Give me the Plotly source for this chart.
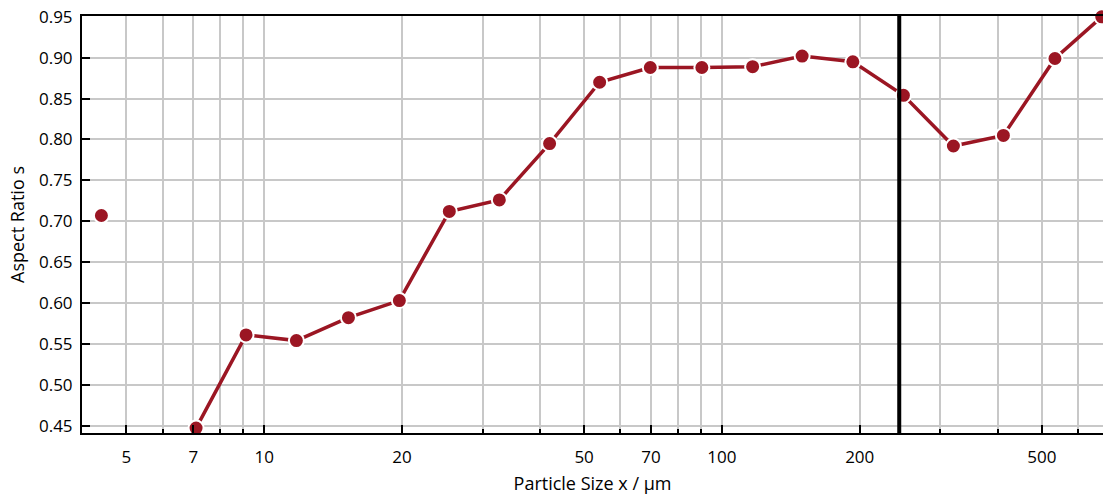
import numpy as np
import plotly.graph_objects as go

# Data
particle_size = [4.41, 7.10, 9.13, 11.76, 15.28, 19.74, 25.38, 32.64, 42.03, 54.06,
                 69.75, 90.4, 116.7, 149.7, 193.2, 249.2, 320.4, 412.0, 534.0, 675.6]
aspect_ratio = [0.707, 0.447, 0.561, 0.554, 0.582, 0.603, 0.712, 0.726, 0.795, 0.870,
                0.888, 0.888, 0.889, 0.902, 0.895, 0.854, 0.792, 0.805, 0.899, 0.950]
# first point is isolated (not connected)
segment_break_after = 0

major_ticks = [5, 7, 10, 20, 50, 70, 100, 200, 500]
minor_ticks = [6, 8, 9, 30, 40, 60, 80, 90, 300, 400, 600]
y_ticks = [0.45, 0.50, 0.55, 0.60, 0.65, 0.70, 0.75, 0.80, 0.85, 0.90, 0.95]
cut_size = 244

x_range = [4.0, 680.0]
y_range = [0.441, 0.951]

red = "#9b1623"
font = "Open Sans, Noto Sans, sans-serif"

fig = go.Figure()

# isolated first point
fig.add_trace(go.Scatter(
    x=particle_size[:segment_break_after + 1], y=aspect_ratio[:segment_break_after + 1],
    mode="markers",
    marker=dict(color=red, size=15, line=dict(color="white", width=2)),
    showlegend=False, cliponaxis=False))
# connected series
fig.add_trace(go.Scatter(
    x=particle_size[segment_break_after + 1:], y=aspect_ratio[segment_break_after + 1:],
    mode="lines+markers",
    line=dict(color=red, width=3.5),
    marker=dict(color=red, size=15, line=dict(color="white", width=2)),
    showlegend=False, cliponaxis=False))

fig.add_vline(x=cut_size, line=dict(color="black", width=4))

fig.update_layout(
    width=1103, height=497,
    margin=dict(l=82, r=0, t=16, b=64),
    paper_bgcolor="white", plot_bgcolor="white",
    font=dict(family=font, size=17, color="black"),
)

fig.update_xaxes(
    type="log", range=[np.log10(x_range[0]), np.log10(x_range[1])],
    tickmode="array", tickvals=major_ticks, ticktext=[str(t) for t in major_ticks],
    ticks="inside", ticklen=8, tickwidth=2, tickcolor="black",
    showgrid=True, gridcolor="#c8c8c8", gridwidth=2,
    minor=dict(tickmode="array", tickvals=minor_ticks, ticks="inside", ticklen=4,
               tickwidth=2, tickcolor="black", showgrid=True,
               gridcolor="#c8c8c8", gridwidth=2),
    showline=True, linecolor="black", linewidth=2, mirror=True,
    zeroline=False, ticklabelstandoff=8,
    title=dict(text="Particle Size x / μm", font=dict(size=18), standoff=10),
)
fig.update_yaxes(
    range=y_range, tickmode="array", tickvals=y_ticks,
    ticktext=[f"{v:.2f}" for v in y_ticks],
    ticks="inside", ticklen=8, tickwidth=2, tickcolor="black",
    showgrid=True, gridcolor="#c8c8c8", gridwidth=2,
    showline=True, linecolor="black", linewidth=2,
    zeroline=False, ticklabelstandoff=4,
    title=dict(text="Aspect Ratio s", font=dict(size=18), standoff=10),
)

fig.write_html("out.html")
